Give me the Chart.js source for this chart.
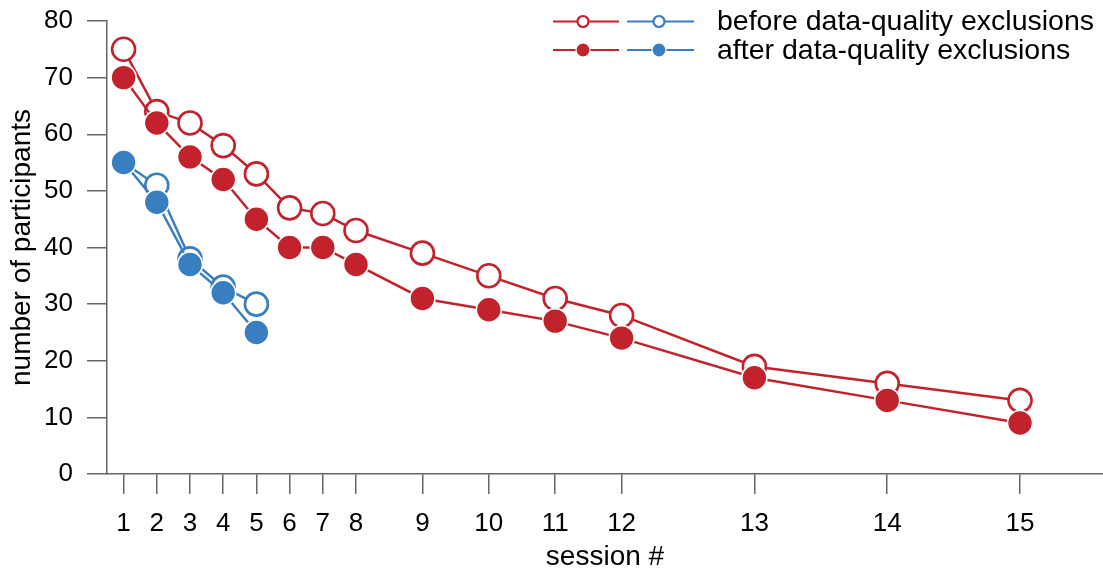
<!DOCTYPE html>
<html>
<head>
<meta charset="utf-8">
<script src="https://cdn.jsdelivr.net/npm/chart.js@4.4.0/dist/chart.umd.min.js"></script>
<style>
html,body{margin:0;padding:0;background:#fff;}
#wrap{width:1103px;height:577px;position:relative;}
</style>
</head>
<body>
<div id="wrap"><canvas id="c" width="1103" height="577"></canvas></div>
<script>
// session labels and their positions on the (time-like) x scale
const sessionLabels = [1,2,3,4,5,6,7,8,9,10,11,12,13,14,15];
const sessionPositions = [1,2,3,4,5,6,7,8,10,12,14,16,20,24,28];
const yTicks = [0,10,20,30,40,50,60,70,80];

// red group
const redBefore = [75,64,62,58,53,47,46,43,39,35,31,28,19,16,13];
const redAfter  = [70,62,56,52,45,40,40,37,31,29,27,24,17,13,9];
// blue group (sessions 1-5)
const blueBefore = [55,51,38,33,30];
const blueAfter  = [55,48,37,32,25];

const legendLabels = ['before data-quality exclusions','after data-quality exclusions'];

const RED = '#c1222b';
const BLUE = '#3a7ec2';
const FONT = '"Liberation Sans", Arial, Helvetica, sans-serif';

function pts(vals){ return vals.map((v,i)=>({x: sessionPositions[i], y: v})); }

function openDs(vals,color){
  return {data: pts(vals), borderColor: color, backgroundColor: '#fff', borderWidth: 2.5,
    pointRadius: 11.5, pointBorderWidth: 2.6, pointBackgroundColor: '#fff', pointBorderColor: color,
    pointHoverRadius: 11.5, fill: false, tension: 0, order: 2, clip: false};
}
function filledDs(vals,color){
  return {data: pts(vals), borderColor: color, backgroundColor: color, borderWidth: 2.5,
    pointRadius: 12.5, pointBorderWidth: 1.6, pointBackgroundColor: color, pointBorderColor: '#fff',
    pointHoverRadius: 12.5, fill: false, tension: 0, order: 1, clip: false};
}

const legendPlugin = {
  id: 'customLegend',
  afterDraw(chart){
    const ctx = chart.ctx;
    const rows = [{y: 21.5, filled: false}, {y: 50, filled: true}];
    const groups = [{color: RED, x0: 553, x1: 619, mx: 583}, {color: BLUE, x0: 627, x1: 694, mx: 659}];
    ctx.save();
    rows.forEach((r, ri) => {
      groups.forEach(g => {
        ctx.strokeStyle = g.color; ctx.lineWidth = 2.2;
        ctx.beginPath(); ctx.moveTo(g.x0, r.y); ctx.lineTo(g.x1, r.y); ctx.stroke();
        ctx.beginPath();
        if (r.filled) {
          ctx.arc(g.mx, r.y, 7, 0, Math.PI*2);
          ctx.fillStyle = g.color; ctx.fill();
          ctx.lineWidth = 1.2; ctx.strokeStyle = '#fff'; ctx.stroke();
        } else {
          ctx.arc(g.mx, r.y, 5.5, 0, Math.PI*2);
          ctx.fillStyle = '#fff'; ctx.fill();
          ctx.lineWidth = 2.2; ctx.strokeStyle = g.color; ctx.stroke();
        }
      });
      ctx.fillStyle = '#000';
      ctx.font = '28.5px ' + FONT;
      ctx.textAlign = 'left'; ctx.textBaseline = 'middle';
      ctx.fillText(legendLabels[ri], 717, r.y + 1);
    });
    ctx.restore();
  }
};

new Chart(document.getElementById('c'), {
  type: 'line',
  data: {
    datasets: [
      openDs(redBefore, RED),
      filledDs(redAfter, RED),
      openDs(blueBefore, BLUE),
      filledDs(blueAfter, BLUE)
    ]
  },
  options: {
    responsive: false,
    animation: false,
    devicePixelRatio: 1,
    layout: {autoPadding: false, padding: {top: 21, right: 0, bottom: 0, left: 0}},
    plugins: {legend: {display: false}, tooltip: {enabled: false}},
    scales: {
      x: {
        type: 'linear', min: 0.5, max: 30.5,
        afterBuildTicks: (s) => { s.ticks = sessionPositions.map(v => ({value: v})); },
        afterFit: (s) => { s.height = 103; s.paddingLeft = 0; s.paddingRight = 0; },
        grid: {display: true, drawOnChartArea: false, drawTicks: true, tickLength: 20, color: '#666', lineWidth: 1.5},
        border: {display: true, color: '#666', width: 1.5},
        ticks: {
          autoSkip: false, maxRotation: 0, padding: 14, color: '#000',
          font: {family: FONT, size: 26},
          callback: (v) => { const i = sessionPositions.indexOf(v); return i >= 0 ? String(sessionLabels[i]) : ''; }
        },
        title: {display: true, text: 'session #', color: '#000', font: {family: FONT, size: 28}, padding: {top: 0, bottom: 3}}
      },
      y: {
        type: 'linear', min: 0, max: 80,
        afterBuildTicks: (s) => { s.ticks = yTicks.map(v => ({value: v})); },
        afterFit: (s) => { s.width = 107; s.paddingTop = 0; s.paddingBottom = 0; },
        grid: {display: true, drawOnChartArea: false, drawTicks: true, tickLength: 20, color: '#666', lineWidth: 1.5},
        border: {display: true, color: '#666', width: 1.5},
        ticks: {padding: 14, color: '#000', font: {family: FONT, size: 26}},
        title: {display: true, text: 'number of participants', color: '#000', font: {family: FONT, size: 28}, padding: {top: 5, bottom: 0}}
      }
    }
  },
  plugins: [legendPlugin]
});
</script>
</body>
</html>
